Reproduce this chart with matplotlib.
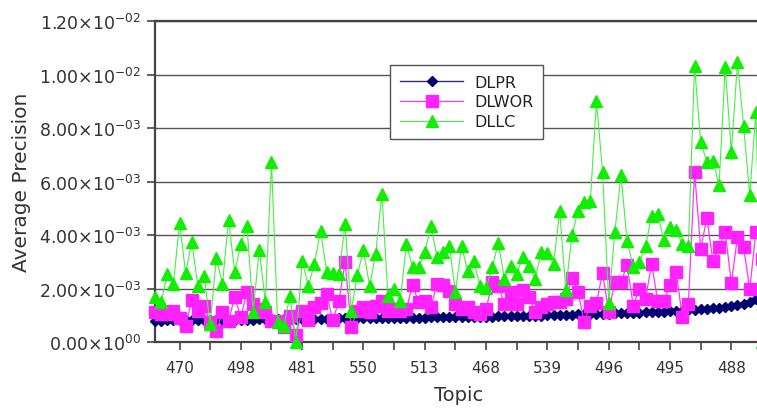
import numpy as np
import matplotlib
matplotlib.use("Agg")
import matplotlib.pyplot as plt
from matplotlib.ticker import FixedLocator, FuncFormatter, MultipleLocator

# =========================
# DATA (values in units of 1e-3)
# =========================
topic_labels = ["470", "498", "481", "550", "513", "468", "539", "496", "495", "488"]

dlpr = [
    0.80, 0.80, 0.81, 0.81, 0.81, 0.82, 0.82, 0.82, 0.82, 0.83,
    0.83, 0.83, 0.83, 0.84, 0.84, 0.84, 0.84, 0.85, 0.85, 0.85,
    0.85, 0.85, 0.86, 0.86, 0.86, 0.86, 0.87, 0.87, 0.87, 0.87,
    0.88, 0.88, 0.88, 0.88, 0.89, 0.89, 0.89, 0.89, 0.90, 0.90,
    0.90, 0.90, 0.91, 0.91, 0.91, 0.92, 0.92, 0.92, 0.93, 0.93,
    0.93, 0.94, 0.94, 0.95, 0.95, 0.95, 0.96, 0.96, 0.97, 0.97,
    0.98, 0.98, 0.99, 0.99, 1.00, 1.00, 1.01, 1.01, 1.02, 1.03,
    1.03, 1.04, 1.05, 1.05, 1.06, 1.07, 1.08, 1.08, 1.09, 1.10,
    1.11, 1.12, 1.13, 1.14, 1.15, 1.16, 1.17, 1.19, 1.20, 1.22,
    1.24, 1.26, 1.28, 1.31, 1.34, 1.38, 1.43, 1.50, 1.62, 1.85,
]

dlwor = [
    1.12, 1.05, 1.05, 1.16, 0.90, 0.60, 1.57, 1.16, 1.35, 0.75,
    0.41, 1.12, 0.79, 1.68, 0.93, 1.87, 1.42, 1.23, 1.12, 0.79,
    0.79, 0.56, 0.97, 0.26, 1.16, 0.82, 1.31, 1.46, 1.79, 0.82,
    1.53, 2.99, 0.56, 1.16, 1.31, 1.12, 1.35, 1.53, 1.16, 1.23,
    1.16, 1.23, 2.13, 1.49, 1.53, 1.31, 2.17, 2.13, 1.91, 1.42,
    1.23, 1.31, 1.12, 1.05, 1.23, 2.24, 2.09, 1.42, 1.87, 1.42,
    1.94, 1.68, 1.12, 1.31, 1.42, 1.49, 1.49, 1.61, 2.39, 1.87,
    0.75, 1.35, 1.46, 2.58, 1.12, 2.24, 2.24, 2.88, 1.35, 1.98,
    1.61, 2.92, 1.53, 1.53, 2.13, 2.62, 0.93, 1.42, 6.37, 3.48,
    4.63, 3.03, 3.55, 4.11, 2.21, 3.93, 3.55, 1.98, 4.11, 3.10,
]

dllc = [
    1.68, 1.49, 2.54, 2.17, 4.45, 2.58, 3.74, 2.09, 2.47, 0.67,
    3.14, 2.17, 4.56, 2.62, 3.66, 4.34, 1.12, 3.44, 1.49, 6.73,
    0.75, 0.60, 1.72, 0.00, 3.03, 2.09, 2.92, 4.15, 2.62, 2.58,
    2.54, 4.41, 1.16, 2.50, 3.44, 2.09, 3.29, 5.53, 1.72, 1.98,
    1.53, 3.66, 2.80, 2.80, 3.36, 4.34, 3.18, 3.36, 3.59, 1.87,
    3.59, 2.65, 3.03, 2.09, 2.02, 2.80, 3.70, 2.36, 2.84, 2.54,
    3.18, 2.84, 2.36, 3.36, 3.33, 2.92, 4.90, 1.94, 4.00, 4.90,
    5.23, 5.27, 9.01, 6.35, 1.46, 4.11, 6.24, 3.78, 2.80, 2.99,
    3.59, 4.71, 4.79, 3.81, 4.30, 4.19, 3.66, 3.59, 10.32, 7.48,
    6.73, 6.77, 5.87, 10.28, 7.10, 10.47, 8.07, 5.50, 8.60, 0.00,
]

x = np.arange(len(dlpr))
scale = 1e-3

# =========================
# FIGURE
# =========================
text_col = "#333333"
fig = plt.figure(figsize=(7.57, 4.10), dpi=100)
ax = fig.add_axes([155 / 757, 67 / 410, 607 / 757, 321 / 410])

ax.plot(x, np.array(dlpr) * scale, color="#2b2b80", lw=1.0, marker="D",
        markersize=5.5, markerfacecolor="#000070", markeredgecolor="#000070",
        label="DLPR", clip_on=False, zorder=3)
ax.plot(x, np.array(dlwor) * scale, color="#ff33ff", lw=0.9, marker="s",
        markersize=8, markerfacecolor="#ff22ff", markeredgecolor="#ff22ff",
        label="DLWOR", clip_on=False, zorder=4)
ax.plot(x, np.array(dllc) * scale, color="#44ee44", lw=0.8, marker="^",
        markersize=9, markerfacecolor="#11ee00", markeredgecolor="#11ee00",
        label="DLLC", clip_on=False, zorder=5)

# axes limits and ticks
ax.set_xlim(0, 99)
ax.set_ylim(0, 0.012)
ax.yaxis.set_major_locator(MultipleLocator(0.002))


def sci_fmt(v, pos):
    if v == 0:
        return r"$0.00{\times}10^{00}$"
    e = int(np.floor(np.log10(abs(v)) + 1e-9))
    m = v / 10 ** e
    es = "-%02d" % abs(e) if e < 0 else "%02d" % e
    return r"$%.2f{\times}10^{%s}$" % (m, es)


ax.yaxis.set_major_formatter(FuncFormatter(sci_fmt))

label_pos = [4 + 10 * i for i in range(len(topic_labels))]
ax.xaxis.set_major_locator(FixedLocator(label_pos))
ax.set_xticklabels(topic_labels)
ax.xaxis.set_minor_locator(FixedLocator([p + 5 for p in label_pos]))

ax.tick_params(axis="both", which="both", direction="out", length=6,
               width=1.2, color="#444444", labelcolor=text_col)
ax.tick_params(axis="x", labelsize=11, pad=7)
ax.tick_params(axis="y", labelsize=12.5, pad=4)

ax.grid(axis="y", color="#555555", lw=1.0)
ax.set_axisbelow(True)
for side in ["left", "bottom", "top", "right"]:
    ax.spines[side].set_color("#444444")
    ax.spines[side].set_linewidth(1.6)

ax.set_xlabel("Topic", fontsize=14, color=text_col, labelpad=7)
ax.set_ylabel("Average Precision", fontsize=14.5, color=text_col, labelpad=6)

leg = ax.legend(loc="upper left", bbox_to_anchor=(390 / 757, 1 - 66 / 410),
                bbox_transform=fig.transFigure, borderaxespad=0,
                fontsize=11.5, handlelength=4.0, handletextpad=0.7,
                labelspacing=0.3, borderpad=0.6, fancybox=False,
                framealpha=1, edgecolor="#555555")
leg.get_frame().set_linewidth(1.0)
for t in leg.get_texts():
    t.set_color("#222222")

fig.savefig("out.png", dpi=100)
